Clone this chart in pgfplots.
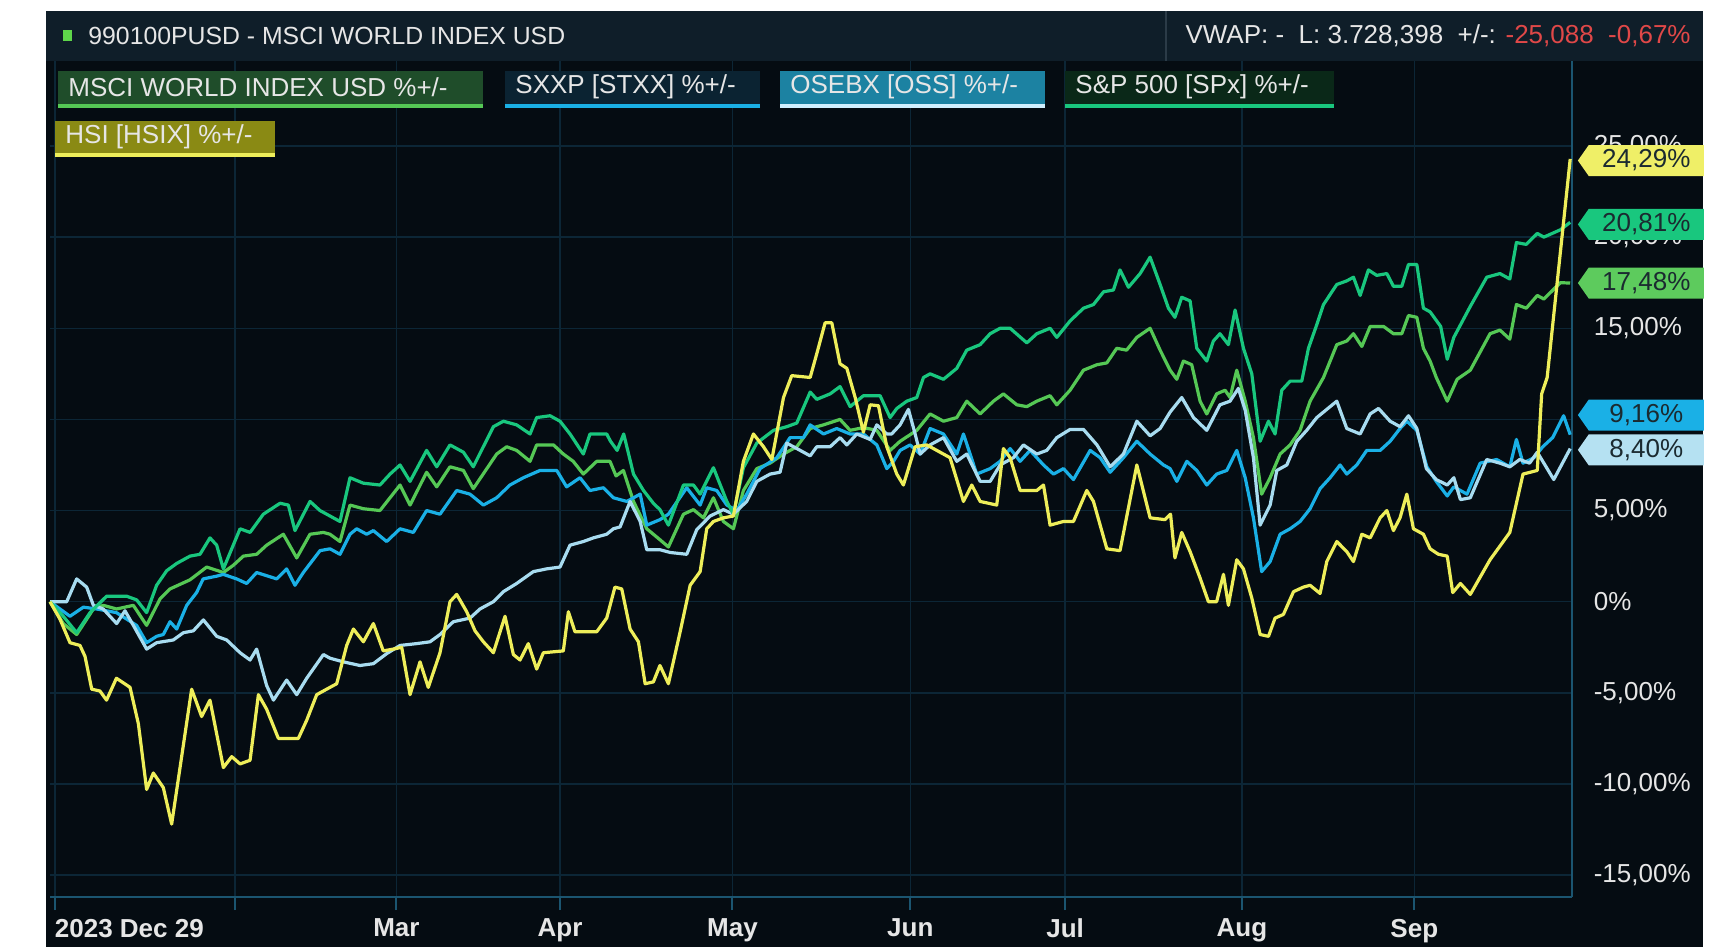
\documentclass[border=0pt]{standalone}
\usepackage{fontspec}
\setmainfont{Liberation Sans}
\usepackage{pgfplots}
\pgfplotsset{compat=1.18}
\usepackage{pgfplotstable}
\usetikzlibrary{shapes.symbols}

\definecolor{panel}{HTML}{050C12}
\definecolor{hdr}{HTML}{0F1E29}
\definecolor{sepc}{HTML}{2B3B47}
\definecolor{gridc}{HTML}{0C2636}
\definecolor{axisc}{HTML}{1B5570}
\definecolor{txt}{HTML}{E6E6E6}
\definecolor{redt}{HTML}{E04848}
\definecolor{cmsci}{HTML}{55C855}
\definecolor{csxxp}{HTML}{1AB0E6}
\definecolor{cose}{HTML}{A8DCF0}
\definecolor{csp}{HTML}{19C77E}
\definecolor{chsi}{HTML}{EEEE5A}
\definecolor{tagtxt}{HTML}{1B2A30}
\definecolor{bgmsci}{HTML}{1F4D2A}
\definecolor{bgsxxp}{HTML}{0B2332}
\definecolor{bgose}{HTML}{1C82A2}
\definecolor{lnose}{HTML}{D0F0FF}
\definecolor{bgsp}{HTML}{0A2818}
\definecolor{bghsi}{HTML}{8A8A14}
\definecolor{sqgreen}{HTML}{5ED64A}

\pgfplotstableread{
x y
45.5 0
54.6 -0.96
63.7 -2.25
72.8 -2.4
77.4 -3.0
83.5 -4.8
91 -4.9
97 -5.4
106 -4.2
118.4 -4.7
126 -6.7
133.5 -10.3
139.6 -9.4
148.7 -10.2
156.3 -12.2
165.4 -8.5
174.5 -4.8
183.6 -6.3
191.2 -5.4
203.4 -9.1
211 -8.5
218.6 -8.9
227.7 -8.7
235.3 -5.1
242.8 -5.9
253.5 -7.5
271.7 -7.5
279.3 -6.5
288.4 -5.1
300.5 -4.7
306.6 -4.5
315.7 -2.4
321.8 -1.5
330.9 -2.2
340 -1.2
349 -2.7
358.2 -2.6
365.8 -2.5
373.4 -5.1
382.5 -3.3
390 -4.7
400.7 -2.8
409.8 0
415.9 0.4
425 -0.55
432.6 -1.6
440.2 -2.2
449.3 -2.8
459.9 -0.8
467.5 -2.9
473.6 -3.2
481.1 -2.3
488.7 -3.7
494.8 -2.8
513 -2.7
517.6 -0.55
523.6 -1.65
543.4 -1.65
552.5 -0.9
560 0.8
566.2 0.7
573.8 -1.5
581.4 -2.2
587.5 -4.5
595 -4.4
601 -3.5
608.7 -4.5
619.4 -1.65
628.5 0.9
637.6 1.65
643.6 4.0
649.7 4.4
658.8 4.6
667.9 4.7
677 7.7
686.1 9.2
695.3 8.5
702.9 7.8
713.5 11.2
721 12.4
737.8 12.3
743.8 13.6
751.4 15.3
757.5 15.3
765 13.05
771.2 12.8
778.8 11.2
786.3 9.3
792.4 10.8
800 10.75
807.6 8.5
816.7 7.0
822.7 6.4
833.4 8.5
844 8.6
853.1 8.3
865.2 7.9
877.4 5.5
885 6.4
892.6 5.5
907.7 5.3
913.8 8.4
919.9 7.9
929 6.1
944.2 6.1
950.3 6.4
956.3 4.2
968.5 4.4
977.6 4.4
989.7 6.1
995.8 5.5
1008 2.9
1020 2.8
1035.3 7.5
1047.4 4.6
1061 4.5
1066 4.8
1070 2.4
1076.2 3.8
1083.8 2.75
1092.9 1.3
1100.5 0
1108 0
1114.2 1.5
1118.7 -0.2
1126.3 2.3
1132.4 1.8
1140 0.2
1147.6 -1.8
1155.2 -1.9
1161.2 -0.9
1168.8 -0.7
1178 0.55
1187 0.8
1193.1 0.9
1202.2 0.45
1208.3 2.2
1217.4 3.3
1226.5 2.75
1232.6 2.2
1240.2 3.7
1247.8 3.5
1256.9 4.6
1263 5.0
1269 3.9
1275 4.6
1281.2 5.9
1287.2 4.0
1296.3 3.7
1302.4 2.9
1310 2.6
1318 2.5
1323 0.5
1330 1.0
1339 0.4
1357 2.3
1375 3.8
1387 7.0
1400 7.2
1404 11.4
1409 12.3
1430 24.29
}\hsi

\pgfplotstableread{
x y
45.5 0
57.6 -0.8
69.8 -1.7
82 -0.6
97 0.3
115.3 0.3
124.4 0.1
133.5 -0.6
142.6 0.9
151.8 1.7
160.9 2.1
173 2.5
182.1 2.6
191.2 3.5
197.3 3.1
203.4 1.8
211 2.9
218.6 4.0
227.7 3.8
239.8 4.8
255 5.4
262.6 5.3
268.6 3.9
282.3 5.5
291.4 5.0
300.5 4.7
309.6 4.4
318.7 6.8
330.9 6.5
346 6.4
355.2 7.0
364.3 7.5
373.4 6.6
388.5 8.3
397.7 7.4
409.8 8.6
422 8.2
431 7.4
449.3 9.6
458.4 9.9
470.5 9.7
482.7 9.2
488.7 10.1
500.9 10.2
510 9.9
519.1 9.2
531.2 8.1
537.3 9.2
552.5 9.2
556 8.8
562 8.3
568 9.2
576.9 7.0
586 6.1
595 5.4
601 5.05
608.7 4.2
622.4 6.4
631.5 6.4
637.6 5.9
649.7 7.35
661.9 5.5
667.9 4.8
677 7.35
689.2 8.7
704.4 9.4
716.5 9.6
725.6 9.8
737.8 11.5
743.8 11.1
756 11.4
765 11.8
774.2 10.7
786.3 11.3
801.5 11.3
810.6 10.1
816.7 10.6
825.8 11.0
834.9 11.2
841 12.3
847 12.5
859.2 12.2
871.3 12.8
880.4 13.8
892.6 14.1
901.7 14.7
910.8 15.0
919.9 15.0
935.1 14.2
944.2 14.7
956.3 15.0
962.4 14.5
974.5 15.4
986.7 16.1
995.8 16.3
1005 17.0
1014 17.1
1020 18.2
1027.7 17.25
1038.3 18.0
1047.4 18.9
1056.5 17.4
1064.1 16.1
1070 15.6
1076.2 16.7
1083.8 16.5
1089.9 13.9
1099 13.2
1105 14.3
1111 14.7
1118.7 14.1
1124.8 16.0
1132.4 13.9
1140 12.5
1147.6 8.8
1155.2 9.9
1161.2 9.2
1167.3 11.6
1174.9 12.1
1185.5 12.1
1191.6 13.9
1199.2 15.2
1205.3 16.3
1217.4 17.4
1226.5 17.6
1232.6 17.8
1238.7 16.8
1246.2 18.2
1253.8 17.9
1263 18.0
1269 17.3
1276.6 17.3
1282.7 18.5
1290.3 18.5
1296.3 16.1
1302.4 15.9
1312 15.1
1318 13.3
1324 14.5
1339 16.2
1354 17.8
1366 18.0
1375 17.7
1381 19.7
1390 19.6
1400 20.2
1406 20.0
1421 20.4
1430 20.81
}\spx

\pgfplotstableread{
x y
45.5 0
57.6 -1.2
69.8 -1.8
85 -0.4
94 -0.2
106.2 -0.4
121.4 -0.2
133.5 -1.3
145.7 0.15
154.8 0.7
173 1.2
188.2 1.9
203.4 1.6
212.5 2.0
221.6 2.5
233.7 2.6
242.8 3.1
258 3.7
270.2 2.4
282.3 3.7
294.5 3.8
300.5 3.7
309.6 3.3
318.7 5.3
330.9 5.1
346 5.0
364.3 6.4
373.4 5.3
388.5 7.1
397.7 6.3
409.8 7.4
422 7.2
431 6.2
452.3 8.1
461.4 8.5
470.5 8.3
482.7 7.7
488.7 8.6
504 8.6
513 8.1
522 7.7
531.2 7.0
543.4 7.7
555.5 7.7
561 6.9
567.7 7.2
576.9 5.5
589 4.0
601 3.4
608.7 3.0
622.4 4.8
631.5 5.05
640.6 4.6
649.7 5.7
658.8 4.4
667.9 4.0
677 6.1
689.2 7.3
701.3 7.6
713.5 8.1
725.6 8.5
737.8 9.5
750 9.7
765 10.0
774.2 9.4
786.3 9.55
798.5 9.4
810.6 8.3
819.7 8.8
834.9 9.4
847 10.3
859.2 9.9
871.3 10.1
880.4 11.0
892.6 10.3
904.7 11.0
913.8 11.4
926 10.8
935.1 10.7
944.2 11.0
956.3 11.3
962.4 10.8
974.5 11.6
986.7 12.7
999 13.0
1008 13.1
1017 13.9
1026 13.8
1035.3 14.5
1047.4 15.0
1056.5 13.8
1065.6 12.7
1071.7 12.2
1077.7 13.2
1085.3 13.0
1092.9 11.0
1099 10.3
1108 11.4
1115.7 11.6
1120.2 11.2
1126.3 12.7
1134 11.0
1141.5 9.0
1149 5.9
1156.7 6.8
1165.8 8.1
1174.9 8.6
1184 9.4
1193.1 11.0
1205.3 12.3
1217.4 14.1
1226.5 14.3
1232.6 14.7
1240.2 14.0
1247.8 15.1
1260 15.1
1269 14.7
1276.6 14.7
1282.7 15.7
1290.3 15.6
1296.3 13.9
1302.4 13.2
1308 12.3
1318 11.0
1327 12.2
1339 12.7
1357 14.7
1366 14.9
1375 14.4
1381 16.3
1390 16.1
1400 16.8
1406 16.6
1421 17.5
1430 17.48
}\msci

\pgfplotstableread{
x y
45.5 0
63.7 -0.8
75.9 -0.3
88 -0.4
106 -0.6
124.4 -1.3
133.5 -2.25
142.6 -1.9
148.7 -1.8
154.8 -1.1
160.9 -1.5
170 -0.2
179 0.5
185 1.25
197.3 1.4
203.4 1.5
215.5 1.25
224.6 1.0
233.7 1.6
252 1.25
261 1.8
268.6 0.9
276.2 1.6
291.4 2.8
300.5 2.9
309.6 2.6
318.7 3.7
324.8 4.0
333.9 3.7
340 3.9
352.1 3.3
364.3 4.0
376.4 3.8
388.5 5.0
400.7 4.8
415.9 6.1
428 5.9
440.2 5.3
452.3 5.7
464.4 6.4
476.6 6.8
491.8 7.2
507 7.2
516 6.3
528.2 6.8
537.3 6.1
549.5 6.25
558.6 5.7
570.8 5.5
583 5.9
589 4.2
601 4.5
608.7 4.8
625.4 6.25
637.6 5.3
643.6 6.25
652.7 6.1
661.9 5.3
671 5.0
680 5.9
692.2 7.3
707.4 7.9
719.5 9.0
731.7 9.0
737.8 9.7
750 9.2
762 9.5
774.2 9.2
786.3 9.2
798.5 8.6
807.6 7.3
813.7 7.7
819.7 8.3
828.8 8.6
838 8.1
847 9.5
859.2 9.2
871.3 8.1
877.4 9.2
889.5 7.0
901.7 7.3
910.8 7.7
919.9 8.4
929 7.7
938.1 8.3
950.3 7.5
959.4 7.0
968.5 7.3
977.6 6.7
992.8 8.3
1001.9 7.9
1011 7.1
1023.1 7.9
1035.3 8.8
1047.4 8.1
1059.6 7.5
1065.6 7.3
1071.7 6.6
1080.8 7.7
1089.9 7.2
1099 6.4
1108 7.0
1117.2 7.2
1126.3 8.3
1134 6.8
1141.5 4.6
1149 1.65
1156.7 2.2
1165.8 3.7
1174.9 4.0
1184 4.4
1193.1 5.1
1202.2 6.2
1211.3 6.8
1220.4 7.5
1226.5 7.0
1235.6 7.5
1244.7 8.3
1256.9 8.3
1266 8.8
1275 9.5
1281.2 9.9
1290.3 9.4
1299.4 7.4
1308 6.6
1318 5.8
1324 6.3
1336 5.9
1348 7.6
1363 7.8
1375 7.4
1381 8.9
1387 7.6
1397 7.9
1405 8.5
1414 9.0
1424 10.2
1430 9.16
}\sxxp

\pgfplotstableread{
x y
45.5 0
60.7 0
69.8 1.25
78.9 0.8
85 -0.2
94 -0.4
106.2 -1.2
113.8 -0.5
121.4 -1.3
133.5 -2.6
142.6 -2.25
157.8 -2.1
167 -1.7
176 -1.6
185.2 -1.0
197.3 -1.9
206.4 -2.1
218.6 -2.8
227.7 -3.2
233.7 -2.6
242.8 -4.6
249 -5.4
261 -4.3
270.2 -5.1
279.3 -4.2
294.5 -2.9
300.5 -3.1
312.6 -3.3
327.8 -3.5
340 -3.4
352.1 -2.85
364.3 -2.4
379.4 -2.3
391.6 -2.2
400.7 -1.8
412.8 -1.1
428 -0.9
437.1 -0.4
449.3 0
458.4 0.55
470.5 1.0
485.7 1.65
497.8 1.8
510 1.9
519.1 3.1
531.2 3.3
540.3 3.5
552.5 3.7
558.6 4.0
564.7 4.1
573.8 5.5
583 4.4
589 2.85
601 2.85
610.3 2.7
625.4 2.6
634.5 3.95
646.7 4.7
658.8 5.05
667.9 4.8
680 5.5
689.2 6.6
701.3 7.0
710.4 7.1
716.5 8.7
728.7 8.3
737.8 8.0
743.8 8.5
756 8.5
765 9.0
771.2 8.6
780.3 9.2
792.4 8.9
798.5 9.7
807.6 9.2
812 9.2
819.7 9.7
827.3 10.55
833.4 9.2
838 8.1
847 8.6
859.2 9.0
871.3 7.7
880.4 8.1
892.6 6.6
901.7 6.6
910.8 7.5
922.9 7.9
932 8.6
944.2 8.1
953.3 8.3
962.4 9.0
974.5 9.45
986.7 9.45
999 8.6
1011 7.4
1023.1 8.1
1035.3 9.9
1047.4 9.1
1056.5 9.5
1065.6 10.4
1076.2 11.2
1086.9 10.1
1099 9.4
1111 10.8
1120.2 11.0
1127.8 11.7
1134 10.5
1141.5 7.9
1147.6 4.2
1156.7 5.3
1162.8 7.2
1171.9 7.5
1181 8.8
1190 9.4
1199.2 10.1
1217.4 11.0
1226.5 9.5
1238.7 9.2
1247.8 10.3
1255.4 10.6
1266 9.9
1275 9.6
1282.7 10.2
1290.3 9.5
1299 7.3
1308 6.7
1318 6.4
1324 6.8
1330 5.6
1339 5.7
1354 7.8
1366 7.6
1375 7.4
1384 7.8
1393 7.6
1400 8.2
1415 6.7
1430 8.40
}\osebx

\newcommand{\legbox}[7]{%
  \fill[#5] (#1,#4) rectangle (#2,#3);
  \fill[#6] (#1,#4) rectangle (#2,{#4+2.2pt});
  \node[anchor=west, text=txt, inner sep=0pt, font=\fontsize{13}{13}\selectfont]
    at ({#1+5pt},{(#3+#4)/2+1.2pt}) {#7};
}

\tikzset{tag/.style={shape=signal, signal to=west, signal pointer angle=110,
  minimum width=63pt, minimum height=15.5pt, inner sep=0pt, anchor=west,
  xshift=2.5pt, text=tagtxt, font=\fontsize{13}{13}\selectfont}}

\begin{document}
\begin{tikzpicture}
\useasboundingbox (0,0) rectangle (861pt,473.5pt);
\fill[white] (0,0) rectangle (861pt,473.5pt);
\fill[panel] (23pt,0) rectangle (851.5pt,468pt);

\begin{axis}[
  at={(25pt,25pt)}, anchor=south west,
  width=761.2pt, height=417.8pt, scale only axis,
  xmin=45.5, xmax=1432, ymin=-16.2, ymax=29.64,
  axis x line*=bottom, axis y line*=right,
  axis line style={draw=axisc, line width=1pt},
  xtick={50,214,361,510,667,829,970,1131,1288},
  xticklabels={\makebox[0pt][l]{2023 Dec 29},,Mar,Apr,May,Jun,Jul,Aug,Sep},
  ytick={-15,-10,-5,0,5,10,15,20,25},
  yticklabels={{-15,00\%},{-10,00\%},{-5,00\%},{0\%},{5,00\%},{},{15,00\%},{20,00\%},{25,00\%}},
  grid=major, major grid style={draw=gridc, line width=0.7pt},
  tick align=outside, major tick length=6.5pt,
  xtick style={draw=axisc, line width=1pt},
  ytick style={draw=none},
  xticklabel style={font=\bfseries\fontsize{13}{13}\selectfont, text=txt, yshift=-1pt},
  yticklabel style={font=\fontsize{13}{13}\selectfont, text=txt, anchor=west, inner sep=0pt, xshift=4pt},
  clip=false,
  every axis plot/.append style={line width=1.6pt, line join=round, no markers},
]
\addplot[color=cmsci] table[x=x,y=y] {\msci};
\addplot[color=csxxp] table[x=x,y=y] {\sxxp};
\addplot[color=cose] table[x=x,y=y] {\osebx};
\addplot[color=csp] table[x=x,y=y] {\spx};
\addplot[color=chsi] table[x=x,y=y] {\hsi};

\node[tag, fill=chsi!92!white] at (axis cs:1432,24.2) {24,29\%};
\node[tag, fill=csp] at (axis cs:1432,20.7) {20,81\%};
\node[tag, fill=cmsci!95!white] at (axis cs:1432,17.48) {17,48\%};
\node[tag, fill=csxxp] at (axis cs:1432,10.24) {9,16\%};
\node[tag, fill=cose!85!white] at (axis cs:1432,8.33) {8,40\%};
\end{axis}

% header
\fill[hdr] (23pt,442.8pt) rectangle (851.5pt,468pt);
\draw[sepc, line width=0.8pt] (583pt,443pt) -- (583pt,468pt);
\fill[sqgreen] (31.5pt,453pt) rectangle (36pt,458.5pt);
\node[anchor=west, text=txt, inner sep=0pt, font=\fontsize{12.4}{13}\selectfont] at (44pt,455.5pt) {990100PUSD - MSCI WORLD INDEX USD};
\node[anchor=east, inner sep=0pt, font=\fontsize{13}{13}\selectfont] at (845.5pt,455.5pt)
  {\textcolor{txt}{VWAP: -\ \ L: 3.728,398\ \ +/-:} \textcolor{redt}{-25,088\ \ -0,67\%}};

% legend
\legbox{29pt}{241.5pt}{438pt}{419.5pt}{bgmsci}{cmsci}{MSCI WORLD INDEX USD \%+/-}
\legbox{252.5pt}{380pt}{438pt}{419.5pt}{bgsxxp}{csxxp}{SXXP [STXX] \%+/-}
\legbox{390pt}{522.5pt}{438pt}{419.5pt}{bgose}{lnose}{OSEBX [OSS] \%+/-}
\legbox{532.5pt}{667pt}{438pt}{419.5pt}{bgsp}{csp}{S\&P 500 [SPx] \%+/-}
\legbox{27.5pt}{137.5pt}{413pt}{395pt}{bghsi}{chsi}{HSI [HSIX] \%+/-}
\end{tikzpicture}
\end{document}
